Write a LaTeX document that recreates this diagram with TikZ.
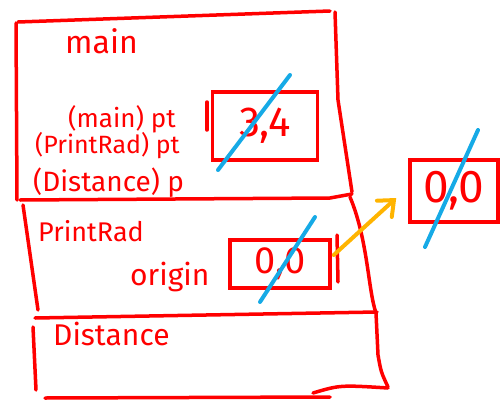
\documentclass[tikz,border=0pt]{standalone}
\usepackage{fontspec}
\setmainfont{Fira Sans}
\usetikzlibrary{arrows.meta}
\definecolor{pen}{RGB}{255,0,0}
\definecolor{strike}{RGB}{22,170,230}
\definecolor{hl}{RGB}{255,180,0}
\begin{document}
\begin{tikzpicture}[x=1pt,y=-1pt,
  frame/.style={draw=pen,line width=3.5pt,line cap=round,line join=round},
  lbl/.style={text=pen,anchor=base west,inner sep=0pt},
  valbox/.style={draw=pen,line width=3.5pt,rectangle,inner sep=0pt,text=pen},
  strikeout/.style={draw=strike,line width=4pt,line cap=round},
  ptr/.style={draw=hl,line width=4pt,line cap=round,-{Straight Barb[length=13pt,width=22pt,line cap=round]}}]
\useasboundingbox (0,0) rectangle (500,404);
% frames
\draw[frame] (18,22) -- (330,11);
\draw[frame] (16,23) -- (17,200);
\draw[frame] (335,12) -- (338,100) -- (352,192);
\draw[frame] (20,200) -- (330,198) -- (352,194);
\draw[frame] (23,205) -- (38,310);
\draw[frame] (350,197) .. controls (368,240) and (368,290) .. (376,313);
\draw[frame] (35,318) -- (377,312);
\draw[frame] (33,327) -- (36,390);
\draw[frame] (376,313) -- (378,355) .. controls (381,372) .. (388,387);
\draw[frame] (45,398) -- (330,397);
\draw[frame] (313,393) .. controls (340,385) .. (388,388);
% labels
\node[lbl] (main) at (65,53) {\fontsize{32}{32}\selectfont main};
\node[lbl] (ptmain) at (68,127) {\fontsize{26}{26}\selectfont (main) pt};
\node[lbl] (ptprint) at (35,153) {\fontsize{25}{25}\selectfont (PrintRad) pt};
\node[lbl] (pdist) at (33,191) {\fontsize{28}{28}\selectfont (Distance) p};
\node[lbl] (printrad) at (38,241) {\fontsize{27}{27}\selectfont PrintRad};
\node[lbl] (origin) at (130,285) {\fontsize{30}{30}\selectfont origin};
\node[lbl] (distance) at (53,345) {\fontsize{30}{30}\selectfont Distance};
% value boxes
\node[valbox,minimum width=105pt,minimum height=68pt] (box34) at (265,126) {\fontsize{42}{42}\selectfont 3,4};
\node[valbox,minimum width=100pt,minimum height=48pt] (box00) at (280,264) {\fontsize{38}{38}\selectfont 0,0};
\node[valbox,minimum width=88pt,minimum height=62pt] (boxheap) at (454,191) {\fontsize{46}{46}\selectfont 0,0};
% brackets
\draw[frame] (207,102) -- (207,130);
\draw[frame] (337,235) -- (338,282);
% strikes
\coordinate (s1a) at (218,170); \coordinate (s1b) at (290,75);
\coordinate (s2a) at (260,302); \coordinate (s2b) at (315,217);
\coordinate (s3a) at (425,247); \coordinate (s3b) at (478,130);
\draw[strikeout] (s1a) -- (s1b);
\draw[strikeout] (s2a) -- (s2b);
\draw[strikeout] (s3a) -- (s3b);
% pointer
\draw[ptr] ([xshift=2pt,yshift=9pt]box00.east) -- ([xshift=-12pt,yshift=-7pt]boxheap.west);
\end{tikzpicture}
\end{document}
